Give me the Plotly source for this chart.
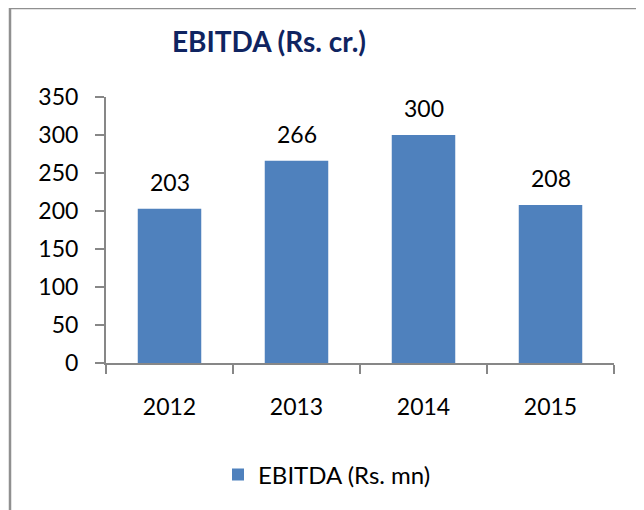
import plotly.graph_objects as go

years = ["2012", "2013", "2014", "2015"]
ebitda = [203, 266, 300, 208]
y_ticks = [0, 50, 100, 150, 200, 250, 300, 350]

W, H = 644, 510
OFF = 8  # page body margin offset; work in page pixel coords below
# plot area in page pixels: x 106..614, y 97..363
L = 106 - OFF
T = 97 - OFF
R = W - (614 - OFF)
B = H - (363 - OFF)
PW, PH = W - L - R, H - T - B

def px(x):
    return (x - OFF - L) / PW

def py(y):
    return (H - B - (y - OFF)) / PH

FONT = "Lato, 'Open Sans', sans-serif"

fig = go.Figure()
fig.add_trace(go.Bar(
    x=years, y=ebitda, name="EBITDA (Rs. mn)",
    marker=dict(color="#4F81BD", line=dict(width=0)),
    width=0.5,
))

# value labels above bars (category axis: annotation x given as category index)
for i, v in enumerate(ebitda):
    fig.add_annotation(x=i, y=v, xref="x", yref="y", text=str(v), showarrow=False,
                       yanchor="middle", yshift=27,
                       font=dict(size=23, color="#000000", family=FONT))

shapes = [
    dict(type="line", xref="paper", yref="paper", x0=px(10), x1=px(10), y0=py(4), y1=py(H + 20), line=dict(color="#909090", width=2.5)),
    dict(type="line", xref="paper", yref="paper", x0=px(9), x1=px(W + 20), y0=py(8.6), y1=py(8.6), line=dict(color="#909090", width=1.5)),
    dict(type="line", xref="paper", yref="paper", x0=px(642.5), x1=px(642.5), y0=py(4), y1=py(H + 20), line=dict(color="#C8C8C8", width=1.5)),
]

fig.update_layout(
    width=W, height=H,
    margin=dict(l=L, r=R, t=T, b=B),
    paper_bgcolor="white", plot_bgcolor="white",
    font=dict(family=FONT, size=23, color="#000000"),
    title=dict(text="<b>EBITDA (Rs. cr.)</b>", xref="container", x=(269 - OFF) / W, xanchor="center",
               yref="container", y=1 - (42 - OFF) / H, yanchor="middle",
               font=dict(family=FONT, size=28, color="#0F2461")),
    showlegend=True,
    legend=dict(orientation="h", x=px(218), xanchor="left", y=py(475), yanchor="middle",
                font=dict(size=24, family=FONT), itemwidth=30),
    shapes=shapes,
)
fig.update_xaxes(type="category", range=[-0.5, len(years) - 0.5], showline=True,
                 linecolor="#878787", linewidth=2, ticks="outside",
                 tickson="boundaries", ticklen=9, tickcolor="#878787", tickwidth=2,
                 showgrid=False, tickfont=dict(size=23, family=FONT), ticklabelstandoff=22)
fig.update_yaxes(range=[0, 350], tickvals=y_ticks, showline=True, linecolor="#878787",
                 linewidth=2, ticks="outside", ticklen=9, tickcolor="#878787", tickwidth=2,
                 showgrid=False, zeroline=False, tickfont=dict(size=23, family=FONT),
                 ticklabelstandoff=12)

fig.write_html("out.html")
